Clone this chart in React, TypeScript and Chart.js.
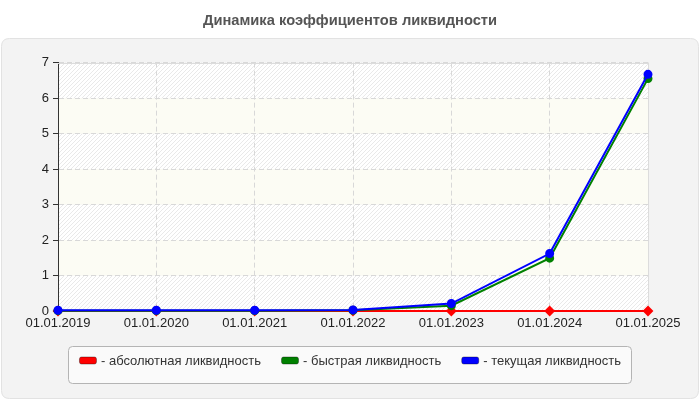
import React, { useEffect, useRef } from "react";
import { Chart, registerables } from "chart.js";

Chart.register(...registerables);

const TITLE = "Динамика коэффициентов ликвидности";
const categories = ["01.01.2019", "01.01.2020", "01.01.2021", "01.01.2022", "01.01.2023", "01.01.2024", "01.01.2025"];
const absoluteLiquidity = [0, 0, 0, 0, 0, 0, 0];
const quickLiquidity = [0.01, 0.01, 0.01, 0.02, 0.15, 1.49, 6.55];
const currentLiquidity = [0.02, 0.02, 0.02, 0.03, 0.21, 1.62, 6.67];
const seriesLabels = ["абсолютная ликвидность", "быстрая ликвидность", "текущая ликвидность"];
const seriesColors = ["#ff0000", "#008000", "#0000ff"];
const yMin = 0;
const yMax = 7;

const FONT = "'Liberation Sans', Arial, sans-serif";

function makeHatch(): CanvasPattern | string {
  const c = document.createElement("canvas");
  c.width = 4;
  c.height = 4;
  const g = c.getContext("2d");
  if (!g) return "#ffffff";
  g.fillStyle = "#ffffff";
  g.fillRect(0, 0, 4, 4);
  g.fillStyle = "#e9e9e9";
  for (let i = 0; i < 4; i++) g.fillRect(i, 3 - i, 1, 1);
  const p = g.createPattern(c, "repeat");
  return p || "#ffffff";
}

function roundRect(ctx: CanvasRenderingContext2D, x: number, y: number, w: number, h: number, r: number) {
  ctx.beginPath();
  ctx.moveTo(x + r, y);
  ctx.lineTo(x + w - r, y);
  ctx.quadraticCurveTo(x + w, y, x + w, y + r);
  ctx.lineTo(x + w, y + h - r);
  ctx.quadraticCurveTo(x + w, y + h, x + w - r, y + h);
  ctx.lineTo(x + r, y + h);
  ctx.quadraticCurveTo(x, y + h, x, y + h - r);
  ctx.lineTo(x, y + r);
  ctx.quadraticCurveTo(x, y, x + r, y);
  ctx.closePath();
}

const backgroundPlugin = {
  id: "bgPanel",
  beforeDraw(chart: any) {
    const { ctx, width, height, chartArea, scales } = chart;
    ctx.save();
    ctx.fillStyle = "#ffffff";
    ctx.fillRect(0, 0, width, height);
    roundRect(ctx, 1.5, 38.5, width - 3, height - 40, 8);
    ctx.fillStyle = "#f3f3f3";
    ctx.fill();
    ctx.strokeStyle = "#e2e2e2";
    ctx.lineWidth = 1;
    ctx.stroke();
    const hatch = makeHatch();
    const y = scales.y;
    for (let v = yMin; v < yMax; v++) {
      const top = y.getPixelForValue(v + 1);
      const bottom = y.getPixelForValue(v);
      ctx.fillStyle = v % 2 === 0 ? (hatch as any) : "#fcfcf4";
      ctx.fillRect(chartArea.left, top, chartArea.right - chartArea.left, bottom - top);
    }
    ctx.restore();
  },
  beforeDatasetsDraw(chart: any) {
    const { ctx, chartArea } = chart;
    ctx.save();
    ctx.strokeStyle = "#dcdcdc";
    ctx.lineWidth = 1;
    ctx.setLineDash([]);
    ctx.beginPath();
    ctx.moveTo(chartArea.left, Math.round(chartArea.top) + 0.5);
    ctx.lineTo(Math.round(chartArea.right) + 0.5, Math.round(chartArea.top) + 0.5);
    ctx.lineTo(Math.round(chartArea.right) + 0.5, chartArea.bottom);
    ctx.stroke();
    ctx.restore();
  },
};

const legendPlugin = {
  id: "boxLegend",
  afterDraw(chart: any) {
    const { ctx, chartArea, width } = chart;
    const ds = chart.data.datasets;
    ctx.save();
    ctx.font = `13px ${FONT}`;
    const boxW = 18;
    const boxH = 7;
    const gapBoxText = 4;
    const gapItems = 20;
    const items = ds.map((d: any) => {
      const text = "- " + d.label;
      const tw = ctx.measureText(text).width;
      return { text, color: d.borderColor, w: boxW + gapBoxText + tw };
    });
    const total = items.reduce((s: number, it: any) => s + it.w, 0) + gapItems * (items.length - 1);
    const startX = width / 2 - total / 2;
    const frameTop = chartArea.bottom + 35;
    const frameH = 37;
    roundRect(ctx, Math.round(startX - 11) + 0.5, Math.round(frameTop) + 0.5, Math.round(total + 21), frameH, 4);
    ctx.fillStyle = "#fafafa";
    ctx.fill();
    ctx.strokeStyle = "#b4b4b4";
    ctx.lineWidth = 1;
    ctx.stroke();
    const cy = frameTop + 14.5;
    let x = startX;
    items.forEach((it: any) => {
      roundRect(ctx, x + 0.5, cy - boxH / 2, boxW - 1, boxH, 2);
      ctx.fillStyle = it.color;
      ctx.fill();
      ctx.strokeStyle = "rgba(0,0,0,0.35)";
      ctx.stroke();
      ctx.fillStyle = "#333333";
      ctx.textBaseline = "middle";
      ctx.textAlign = "left";
      ctx.fillText(it.text, x + boxW + gapBoxText, cy + 1);
      x += it.w + gapItems;
    });
    ctx.restore();
  },
};

export default function App() {
  const ref = useRef<HTMLCanvasElement | null>(null);
  useEffect(() => {
    if (!ref.current) return;
    const mk = (i: number, data: number[], order: number, pointStyle: string, radius: number) => ({
      label: seriesLabels[i],
      data,
      borderColor: seriesColors[i],
      backgroundColor: seriesColors[i],
      pointBackgroundColor: seriesColors[i],
      pointBorderColor: seriesColors[i],
      borderWidth: 2,
      pointRadius: radius,
      pointStyle,
      tension: 0,
      fill: false,
      clip: false,
      order,
    });
    const chart = new Chart(ref.current, {
      type: "line",
      data: {
        labels: categories,
        datasets: [
          mk(0, absoluteLiquidity, 3, "rectRot", 4),
          mk(1, quickLiquidity, 2, "circle", 3.5),
          mk(2, currentLiquidity, 1, "circle", 3.5),
        ],
      },
      options: {
        responsive: false,
        animation: false,
        devicePixelRatio: 1,
        layout: { padding: { left: 0, right: 0, top: 0, bottom: 64 } },
        plugins: {
          legend: { display: false },
          tooltip: { enabled: false },
          title: {
            display: true,
            text: TITLE,
            color: "#555555",
            font: { family: FONT, size: 14.7, weight: "bold" },
            padding: { top: 12, bottom: 33 },
          },
        },
        scales: {
          x: {
            offset: false,
            afterFit: (s: any) => {
              s.height = 25;
              s.paddingRight = 52;
            },
            border: { display: true, color: "#333333", width: 1, dash: [5, 3] },
            grid: {
              color: "#d8d8d8",
              drawTicks: false,
              tickLength: 0,
            },
            ticks: {
              color: "#222222",
              font: { family: FONT, size: 13 },
              padding: 5,
              maxRotation: 0,
              autoSkip: false,
            },
          },
          y: {
            min: yMin,
            max: yMax,
            afterFit: (s: any) => {
              s.width = 58;
            },
            border: { display: true, color: "#333333", width: 1, dash: [5, 3] },
            grid: {
              color: "#d8d8d8",
              drawTicks: true,
              tickLength: 5,
              tickColor: "#333333",
              tickBorderDash: [],
            },
            ticks: {
              stepSize: 1,
              color: "#222222",
              font: { family: FONT, size: 13 },
              padding: 4,
            },
          },
        },
      } as any,
      plugins: [backgroundPlugin, legendPlugin],
    });
    return () => chart.destroy();
  }, []);
  return (
    <div style={{ position: "absolute", left: 0, top: 0, width: 700, height: 400 }}>
      <canvas ref={ref} width={700} height={400} style={{ display: "block" }} />
    </div>
  );
}
